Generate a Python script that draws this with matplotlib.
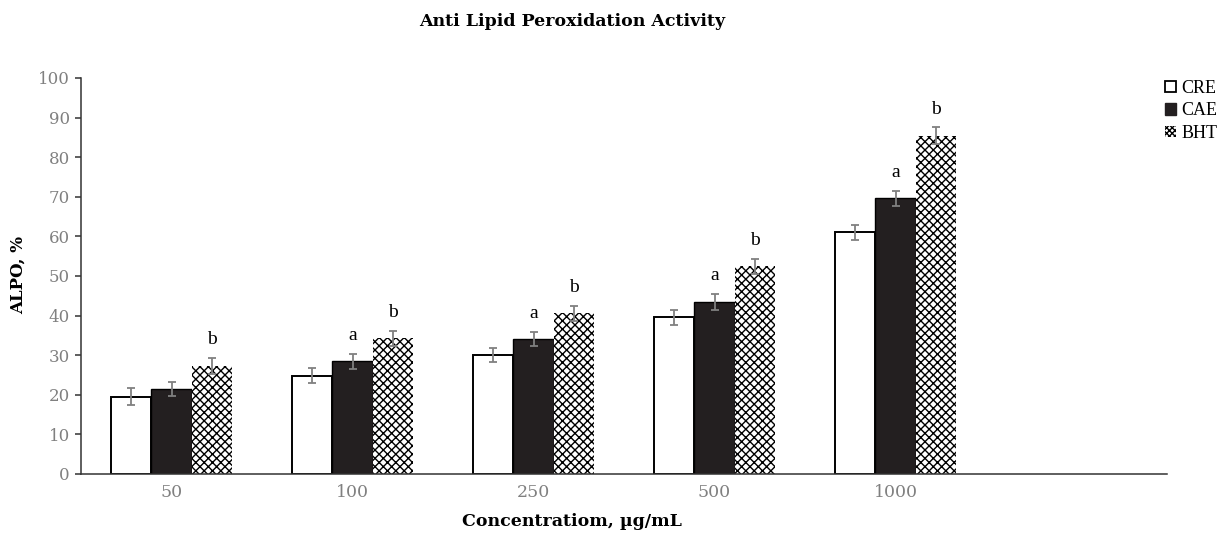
import numpy as np
import matplotlib
matplotlib.use("Agg")
import matplotlib.pyplot as plt
from matplotlib.patches import Patch

# data
concentrations = ["50", "100", "250", "500", "1000", ""]
cre = [19.5, 24.8, 30.0, 39.6, 61.1]
cae = [21.4, 28.5, 34.1, 43.4, 69.6]
bht = [27.3, 34.3, 40.6, 52.4, 85.4]
cre_err = [2.1, 1.85, 1.8, 1.85, 1.9]
cae_err = [1.8, 1.9, 1.7, 2.0, 1.8]
bht_err = [2.0, 1.9, 1.9, 1.9, 2.1]
cae_letters = ["", "a", "a", "a", "a"]
bht_letters = ["b", "b", "b", "b", "b"]

SERIF = "DejaVu Serif"
GREY = "#808080"
DARK = "#231f20"
HATCH = "xxxx"

plt.rcParams["font.family"] = SERIF
plt.rcParams["hatch.linewidth"] = 1.0

fig = plt.figure(figsize=(12.19, 5.38), dpi=100)
ax = fig.add_axes([81 / 1219, 64 / 538, (1167 - 81) / 1219, (474 - 78) / 538])

x = np.arange(len(cre))
w = 0.222
err_kw = dict(ecolor=GREY, elinewidth=1.3, capsize=3, capthick=1.3)

ax.bar(x - w, cre, w, yerr=cre_err, color="white", edgecolor="black",
       linewidth=1.4, error_kw=err_kw, zorder=2)
ax.bar(x, cae, w, yerr=cae_err, color=DARK, edgecolor="black",
       linewidth=1.0, error_kw=err_kw, zorder=2)
ax.bar(x + w, bht, w, yerr=bht_err, color="white", edgecolor="black",
       hatch=HATCH, linewidth=0, error_kw=err_kw, zorder=2)

# significance letters above the error bars
for i in range(len(cre)):
    if cae_letters[i]:
        ax.annotate(cae_letters[i], (x[i], cae[i] + cae_err[i]),
                    xytext=(0, 10), textcoords="offset points",
                    ha="center", va="baseline", fontsize=14,
                    family="Liberation Serif")
    if bht_letters[i]:
        ax.annotate(bht_letters[i], (x[i] + w, bht[i] + bht_err[i]),
                    xytext=(0, 10), textcoords="offset points",
                    ha="center", va="baseline", fontsize=14,
                    family="Liberation Serif")

ax.set_xlim(-0.5, len(concentrations) - 0.5)
ax.set_ylim(0, 100)
ax.set_yticks(range(0, 101, 10))
ax.set_xticks(range(len(concentrations)))
ax.set_xticklabels(concentrations)

for s in ["top", "right"]:
    ax.spines[s].set_visible(False)
for s in ["left", "bottom"]:
    ax.spines[s].set_color("#333333")
    ax.spines[s].set_linewidth(1.1)

ax.tick_params(axis="y", direction="out", length=4, width=1.1,
               color="#333333", labelcolor=GREY, labelsize=12, pad=4)
ax.tick_params(axis="x", length=0, labelcolor=GREY, labelsize=12.5, pad=7)

fig.text(572 / 1219, 1 - 22 / 538, "Anti Lipid Peroxidation Activity",
         ha="center", va="center", fontsize=12.5, fontweight="bold")
fig.text(572 / 1219, 1 - 522 / 538, "Concentratiom, \u00b5g/mL",
         ha="center", va="center", fontsize=12.5, fontweight="bold")
fig.text(18 / 1219, 1 - 275 / 538, "ALPO, %", rotation=90,
         ha="center", va="center", fontsize=12, fontweight="bold")

handles = [Patch(facecolor="white", edgecolor="black", linewidth=1.3),
           Patch(facecolor=DARK, edgecolor=DARK),
           Patch(facecolor="white", edgecolor="black", hatch="xxxxxx", linewidth=0)]
fig.legend(handles, ["CRE", "CAE", "BHT"], loc="upper left",
           bbox_to_anchor=(1165 / 1219, 1 - 80 / 538), frameon=False,
           handlelength=0.6, handleheight=0.6, handletextpad=0.3,
           labelspacing=0.3, borderpad=0, borderaxespad=0,
           prop={"family": "Liberation Serif", "size": 13})

fig.savefig("out.png", dpi=100)
